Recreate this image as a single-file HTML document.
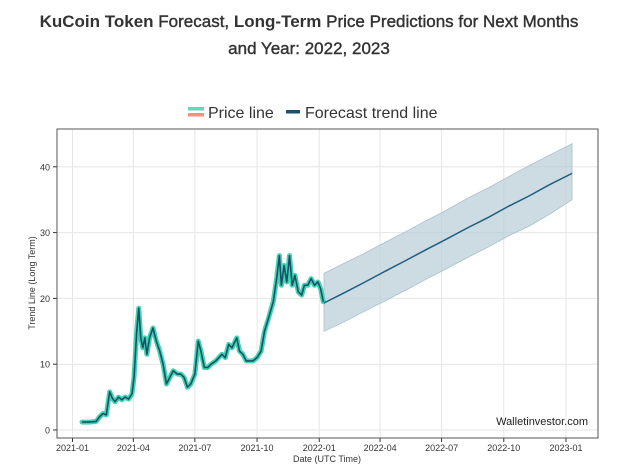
<!DOCTYPE html>
<html><head><meta charset="utf-8"><style>
body{margin:0;background:#fff;width:618px;height:475px;overflow:hidden;font-family:"Liberation Sans",sans-serif}
#title{position:absolute;left:0;top:8px;width:618px;text-align:center;font-size:17px;line-height:27px;color:#333;font-weight:bold}
#title .l{font-weight:normal;-webkit-text-stroke:0.4px #333}
svg{position:absolute;left:0;top:0}
</style></head><body>
<div id="title"><b>KuCoin Token</b> <span class="l">Forecast,</span> <b>Long-Term</b> <span class="l">Price Predictions for Next Months</span><br><span class="l">and Year: 2022, 2023</span></div>
<svg id="chart" width="618" height="475"></svg>
<script>
const priceDates=["2021-01-15","2021-01-25","2021-02-05","2021-02-10","2021-02-15","2021-02-20","2021-02-25","2021-03-01","2021-03-05","2021-03-10","2021-03-15","2021-03-20","2021-03-25","2021-03-30","2021-04-02","2021-04-06","2021-04-09","2021-04-12","2021-04-15","2021-04-18","2021-04-21","2021-04-25","2021-04-30","2021-05-05","2021-05-10","2021-05-15","2021-05-20","2021-05-25","2021-05-30","2021-06-05","2021-06-10","2021-06-15","2021-06-20","2021-06-25","2021-07-01","2021-07-06","2021-07-10","2021-07-15","2021-07-20","2021-07-25","2021-08-01","2021-08-10","2021-08-15","2021-08-20","2021-08-25","2021-09-01","2021-09-05","2021-09-10","2021-09-15","2021-09-20","2021-09-25","2021-10-01","2021-10-07","2021-10-12","2021-10-18","2021-10-25","2021-10-30","2021-11-03","2021-11-06","2021-11-10","2021-11-14","2021-11-18","2021-11-22","2021-11-26","2021-12-01","2021-12-06","2021-12-10","2021-12-15","2021-12-20","2021-12-25","2021-12-30","2022-01-03","2022-01-07"];
const priceValues=[1.2,1.2,1.3,2.0,2.5,2.3,5.8,4.8,4.3,5.0,4.6,5.0,4.7,5.5,8,15,18.5,14,12.5,14,11.5,14,15.5,13.5,12,10,7,8,9,8.5,8.5,8,6.5,7,8.5,13.5,12,9.5,9.5,10,10.5,11.5,11,13,12.5,14,12,11.5,10.5,10.5,10.5,11,12,15,17,19.5,23,26.5,22,25,22.5,26.5,22,23.5,21,20.5,22,22,23,22,22.5,21.5,19.5];
const fcDates=["2022-01-08","2022-02-08","2022-03-08","2022-04-08","2022-05-08","2022-06-08","2022-07-08","2022-08-08","2022-09-08","2022-10-08","2022-11-08","2022-12-08","2023-01-10"];
const fcMean=[19.3,20.9,22.4,24.1,25.7,27.4,29.0,30.7,32.3,34.0,35.6,37.3,39.0];
const fcUpper=[23.8,25.4,26.8,28.5,30.1,31.8,33.4,35.2,36.8,38.5,40.2,41.8,43.5];
const fcLower=[15.0,16.5,18.0,19.6,21.2,22.9,24.5,26.2,27.8,29.5,31.0,32.8,35.0];
const yTicks=[0,10,20,30,40];
const xTicks=["2021-01","2021-04","2021-07","2021-10","2022-01","2022-04","2022-07","2022-10","2023-01"];

const NS="http://www.w3.org/2000/svg",svg=document.getElementById('chart');
const L=57,R=598,T=129,B=438;
const t0=Date.parse("2021-01-01");
const X=d=>72.5+(Date.parse(d)-t0)/864e5*0.676;
const Y=v=>430-v*6.58;
function mk(tag,a,p){const e=document.createElementNS(NS,tag);for(const k in a)e.setAttribute(k,a[k]);(p||svg).appendChild(e);return e;}
// grid
yTicks.forEach(v=>{
const g=mk('line',{x1:L,x2:R,y1:Y(v),y2:Y(v),stroke:'#e6e6e6','stroke-width':1});


mk('line',{x1:L-4,x2:L,y1:Y(v),y2:Y(v),stroke:'#333'});
const t=mk('text',{x:L-7,y:Y(v)+3.5,'text-anchor':'end','font-size':9,fill:'#333'});t.textContent=v;


});
xTicks.forEach(d=>{
const x=X(d+"-01");
const g=mk('line',{x1:x,x2:x,y1:T,y2:B,stroke:'#e6e6e6','stroke-width':1});


mk('line',{x1:x,x2:x,y1:B,y2:B+4,stroke:'#333'});
const t=mk('text',{x:x,y:B+13,'text-anchor':'middle','font-size':9,fill:'#333'});t.textContent=d;


});
// band
let bp=fcDates.map((d,i)=>X(d)+','+Y(fcUpper[i])).join(' ')+' '+fcDates.slice().reverse().map((d,i)=>X(d)+','+Y(fcLower[fcDates.length-1-i])).join(' ');
const band=mk('polygon',{points:bp,fill:'#b8ccd6','fill-opacity':0.7,stroke:'#a9c0cc','stroke-width':0.8});


const ppts=priceDates.map((d,i)=>X(d)+','+Y(priceValues[i])).join(' ');
const pg=mk('polyline',{points:ppts,fill:'none',stroke:'#40d4b0','stroke-width':5,'stroke-linejoin':'round','stroke-linecap':'round'});


const pl=mk('polyline',{points:ppts,fill:'none',stroke:'#1b4f6b','stroke-width':1.6,'stroke-linejoin':'round'});


const fl=mk('polyline',{points:fcDates.map((d,i)=>X(d)+','+Y(fcMean[i])).join(' '),fill:'none',stroke:'#1d5e80','stroke-width':1.5});


// frame
const fr=mk('rect',{x:L,y:T,width:R-L,height:B-T,fill:'none',stroke:'#555','stroke-width':1});


const wm=mk('text',{x:588,y:425,'text-anchor':'end','font-size':11,fill:'#222'});wm.textContent='Walletinvestor.com';


const xt=mk('text',{x:327,y:462,'text-anchor':'middle','font-size':9,fill:'#333'});xt.textContent='Date (UTC Time)';


const yt=mk('text',{x:0,y:0,'text-anchor':'middle','font-size':9,fill:'#333',transform:'translate(35,283) rotate(-90)'});yt.textContent='Trend Line (Long Term)';


// legend
const lg=mk('g',{});


mk('rect',{x:188,y:107,width:16,height:3.5,fill:'#5fd8bc'},lg);
mk('rect',{x:188,y:113,width:16,height:3.5,fill:'#f4907c'},lg);
const l1=mk('text',{x:208,y:118,'font-size':16,fill:'#333'},lg);l1.textContent='Price line';


mk('rect',{x:286,y:110,width:14,height:3.5,fill:'#1b4f6b'},lg);
const l2=mk('text',{x:305,y:118,'font-size':16,fill:'#333'},lg);l2.textContent='Forecast trend line';


</script>
</body></html>
